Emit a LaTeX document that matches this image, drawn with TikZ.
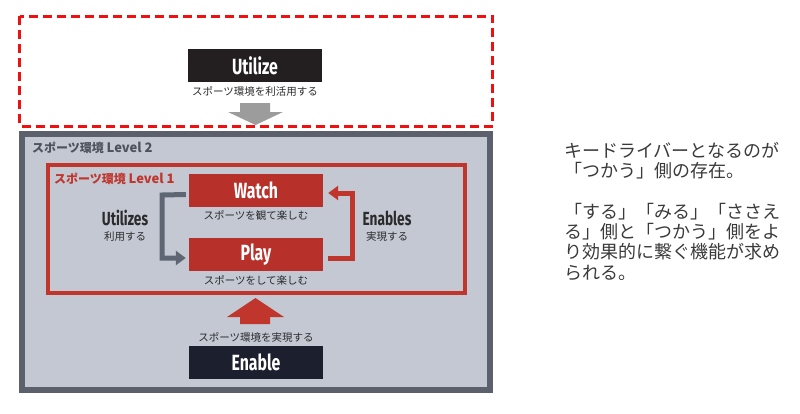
\documentclass[tikz,border=0pt]{standalone}
\usepackage{fontspec}
\setmainfont{Noto Sans CJK JP}
\newfontfamily\jp{Noto Sans CJK JP}
\newfontfamily\cond[FakeStretch=0.72]{Fira Sans}
\usetikzlibrary{arrows.meta,calc}
\definecolor{boxblack}{HTML}{231F20}
\definecolor{enableblack}{HTML}{1C1F2E}
\definecolor{boxred}{HTML}{B7312A}
\definecolor{linered}{HTML}{C0352C}
\definecolor{dashred}{HTML}{F01010}
\definecolor{lvfill}{HTML}{C3C8D3}
\definecolor{lvborder}{HTML}{5B606C}
\definecolor{conngray}{HTML}{5F6673}
\definecolor{arrowgray}{HTML}{9C9C9C}
\definecolor{txt}{HTML}{2B2B2B}
\definecolor{sidetxt}{HTML}{3A3A3A}
\tikzset{
  keybox/.style={minimum width=134pt,minimum height=33pt,inner sep=0pt,text=white,
    font=\cond\bfseries\fontsize{22}{22}\selectfont},
  caption/.style={text=txt,inner sep=0pt,font=\jp\fontsize{10.5}{12}\selectfont},
  sidelabel/.style={text=txt,inner sep=0pt,font=\cond\bfseries\fontsize{19}{19}\selectfont},
  lvlabel/.style={anchor=west,inner sep=0pt,font=\jp\bfseries\fontsize{12}{13}\selectfont},
  conn/.style={line width=5pt},
}
\begin{document}
\begin{tikzpicture}[x=1pt,y=-1pt]
\useasboundingbox (0,0) rectangle (800,413);
% Level 2 box
\draw[line width=6pt,draw=lvborder,fill=lvfill] (22,134) rectangle (490,390);
\node[lvlabel,text=lvborder!85!black] (lv2) at (32,148) {スポーツ環境 {\fontsize{13}{13}\selectfont Level 2}};
% Level 1 box
\draw[line width=4pt,draw=linered] (48,165) rectangle (465,293);
\node[lvlabel,text=linered] (lv1) at (54,179) {スポーツ環境 {\fontsize{13}{13}\selectfont Level 1}};
% gray down arrow
\fill[arrowgray] (240,103) -- (270,103) -- (270,112) -- (283,112) -- (255.5,125) -- (228,112) -- (240,112) -- cycle;
% dashed frame
\draw[line width=3pt,draw=dashred,dash pattern=on 9pt off 5pt] (19.5,16) rectangle (492.5,126);
% Utilize
\node[keybox,fill=boxblack] (utilize) at (255,65.5) {Utilize};
\node[caption] (utilizecap) at (255,91) {スポーツ環境を利活用する};
% Watch / Play
\node[keybox,fill=boxred] (watch) at (256,190.5) {Watch};
\node[caption] (watchcap) at (256,215) {スポーツを観て楽しむ};
\node[keybox,fill=boxred] (play) at (256,254.5) {Play};
\node[caption] (playcap) at (256,280) {スポーツをして楽しむ};
% side labels
\node[sidelabel] (utilizes) at (125,218) {Utilizes};
\node[caption] (utilizescap) at (125,237) {利用する};
\node[sidelabel] (enables) at (387,218) {Enables};
\node[caption] (enablescap) at (387,237) {実現する};
% connectors
\coordinate (gl1) at ($(watch.west)+(-3,4)$);
\coordinate (gl2) at ($(play.west)+(-3,3.5)$);
\draw[conn,draw=conngray,-{Triangle[length=10pt,width=14pt]}] (gl1) -- (162,195) -- (162,258) -- (gl2);
\coordinate (rl1) at ($(play.east)+(5,3.5)$);
\coordinate (rl2) at ($(watch.east)+(5,2.5)$);
\draw[conn,draw=linered,-{Triangle[length=10pt,width=14pt]}] (rl1) -- (352,258) -- (352,193) -- (rl2);
% red up arrow
\fill[linered] (240,324) -- (270,324) -- (270,317) -- (284,317) -- (255.5,298) -- (227,317) -- (240,317) -- cycle;
\node[caption] (enablecap) at (256,337) {スポーツ環境を実現する};
\node[keybox,fill=enableblack] (enable) at (256,362) {Enable};
% side text
\node[anchor=north west,text=sidetxt,inner sep=0pt,align=left,font=\jp\fontsize{18}{20.3}\selectfont] (note) at (564,142)
 {キードライバーとなるのが\\「つかう」側の存在。\\[20.3pt]「する」「みる」「ささえ\\る」側と「つかう」側をよ\\り効果的に繋ぐ機能が求め\\られる。};
\end{tikzpicture}
\end{document}
